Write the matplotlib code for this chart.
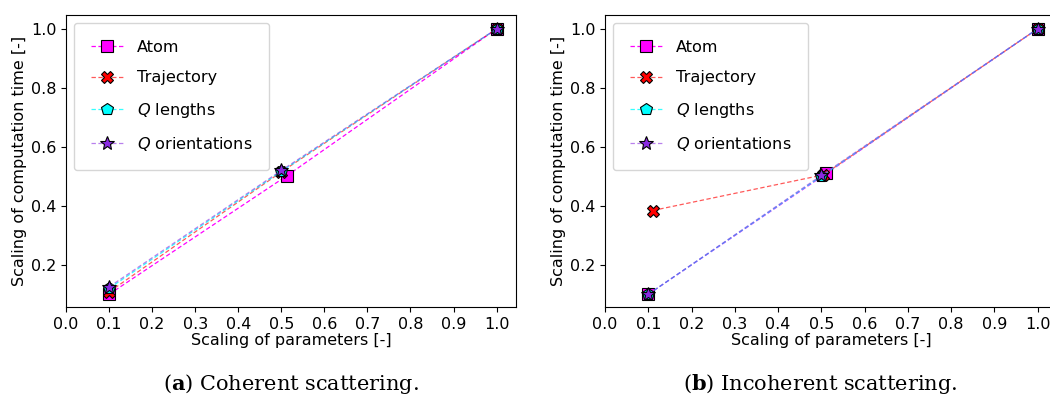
import matplotlib
matplotlib.use("Agg")
import matplotlib.pyplot as plt

# Valores: (a) coerente, (b) incoerente
series = ["Atom", "Trajectory", "$Q$ lengths", "$Q$ orientations"]

coh_atom_x = [0.1, 0.513, 1.0]
coh_atom_y = [0.100, 0.502, 1.0]
coh_traj_x = [0.1, 0.5, 1.0]
coh_traj_y = [0.108, 0.515, 1.0]
coh_qlen_x = [0.1, 0.5, 1.0]
coh_qlen_y = [0.120, 0.517, 1.0]
coh_qori_x = [0.1, 0.5, 1.0]
coh_qori_y = [0.125, 0.520, 1.0]

inc_atom_x = [0.1, 0.512, 1.0]
inc_atom_y = [0.100, 0.510, 1.0]
inc_traj_x = [0.11, 0.505, 1.0]
inc_traj_y = [0.384, 0.505, 1.0]
inc_qlen_x = [0.1, 0.5, 1.0]
inc_qlen_y = [0.100, 0.500, 1.0]
inc_qori_x = [0.1, 0.5, 1.0]
inc_qori_y = [0.100, 0.503, 1.0]

xticks = [0.0, 0.1, 0.2, 0.3, 0.4, 0.5, 0.6, 0.7, 0.8, 0.9, 1.0]
captions = [("a", " Coherent scattering."), ("b", " Incoherent scattering.")]

# estilo de cada série: marcador, cor, opacidade da linha
estilos = [
    dict(marker="s", color="magenta", alpha_line=1.0, ms=9),
    dict(marker="X", color="red", alpha_line=0.65, ms=9),
    dict(marker="p", color="cyan", alpha_line=0.8, ms=9),
    dict(marker="*", color="blueviolet", alpha_line=0.6, ms=10),
]

fig = plt.figure(figsize=(10.5, 3.96), dpi=100)
W, H = 1050, 396
ax1 = fig.add_axes([66 / W, 1 - 307 / H, 450 / W, 292 / H])
ax2 = fig.add_axes([605 / W, 1 - 307 / H, 452 / W, 292 / H])

dados = [
    [(coh_atom_x, coh_atom_y), (coh_traj_x, coh_traj_y), (coh_qlen_x, coh_qlen_y), (coh_qori_x, coh_qori_y)],
    [(inc_atom_x, inc_atom_y), (inc_traj_x, inc_traj_y), (inc_qlen_x, inc_qlen_y), (inc_qori_x, inc_qori_y)],
]

for ax, conj, (letra, texto), cx in zip([ax1, ax2], dados, captions, [291, 820]):
    for nome, (xs, ys), st in zip(series, conj, estilos):
        cor = matplotlib.colors.to_rgba(st["color"], st["alpha_line"])
        ax.plot(xs, ys, linestyle=(0, (3.5, 2)), linewidth=0.9, color=cor,
                marker=st["marker"], markerfacecolor=st["color"],
                markeredgecolor="black", markeredgewidth=0.8,
                markersize=st["ms"], label=nome)
    ax.set_xlim(0.0, 1.045)
    ax.set_ylim(0.057, 1.047)
    ax.set_xticks(xticks)
    ax.set_yticks([0.2, 0.4, 0.6, 0.8, 1.0])
    ax.tick_params(labelsize=11.5)
    ax.set_xlabel("Scaling of parameters [-]", fontsize=11.5, labelpad=1)
    ax.set_ylabel("Scaling of computation time [-]", fontsize=11.5, labelpad=3)
    ax.legend(loc="upper left", fontsize=11.6, labelspacing=0.95,
              handlelength=2.05, borderpad=1.05, handletextpad=0.8,
              borderaxespad=0.5)
    # legenda da subfigura
    fig.text(cx / W, 1 - 384 / H, r"($\mathbf{" + letra + r"}$)" + texto,
             ha="center", va="center", fontsize=15, family="DejaVu Serif",
             math_fontfamily="dejavuserif")

plt.savefig("out.png", dpi=100)
plt.close()
